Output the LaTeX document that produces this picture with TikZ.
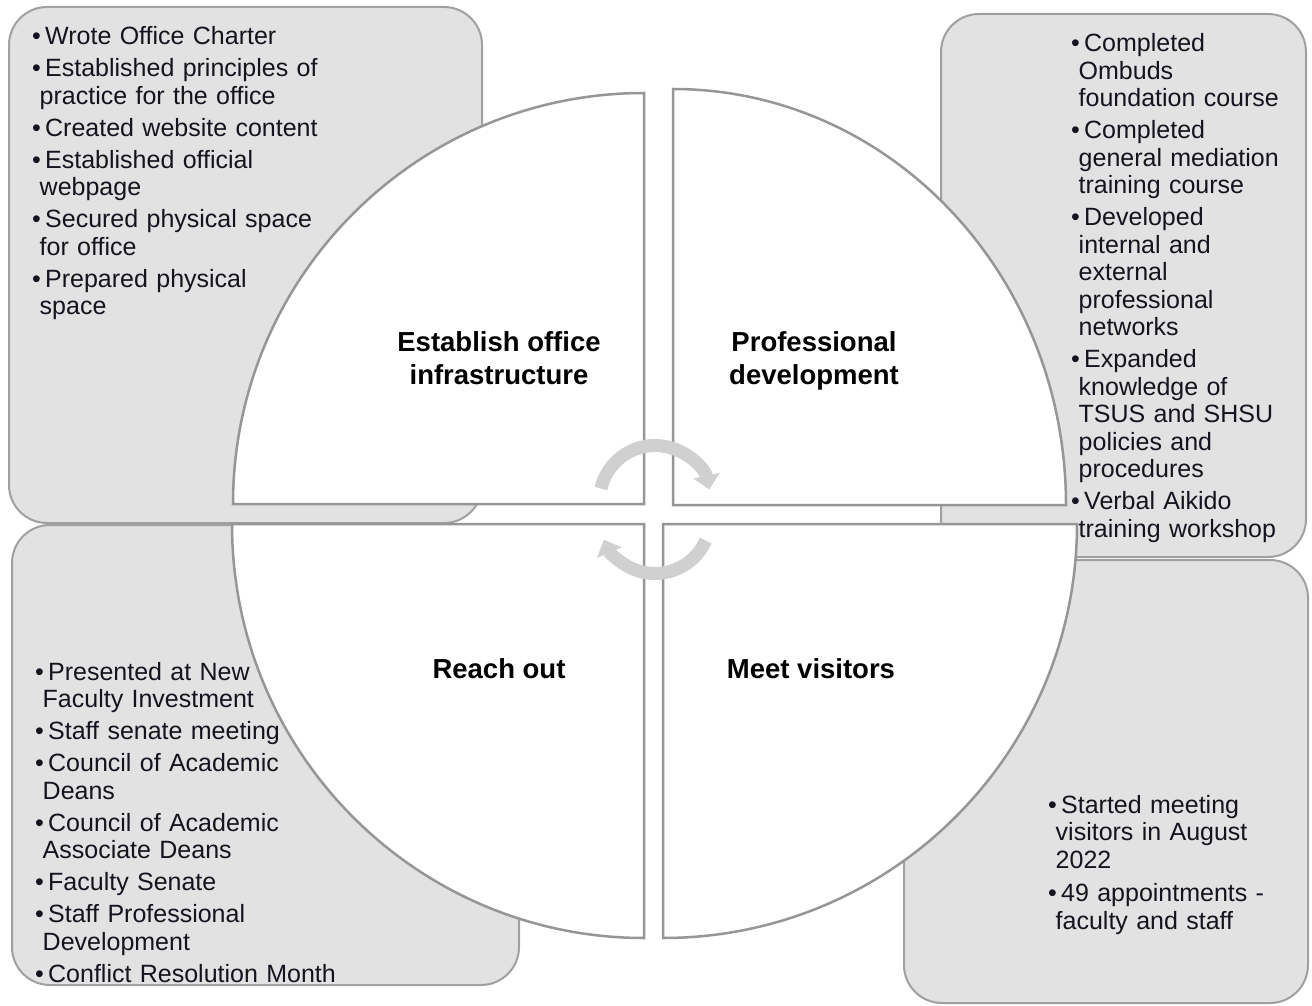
\documentclass[tikz,border=0pt]{standalone}
\usepackage{fontspec}
\setmainfont{Liberation Sans}
\usepackage{tikz}
\usetikzlibrary{arrows.meta}

\definecolor{boxfill}{RGB}{226,226,226}
\definecolor{boxline}{RGB}{160,160,160}
\definecolor{wedgeline}{RGB}{150,150,150}
\definecolor{cyclegray}{RGB}{208,208,208}
\definecolor{bodytext}{RGB}{20,20,30}

\newlength{\itemgap}
\setlength{\itemgap}{4.5pt}
\newcommand{\bul}[1]{%
  \ifhmode\else\addvspace{\itemgap}\noindent\fi
  \hangindent=7.5pt\hangafter=1\makebox[13pt][l]{\textbullet}#1\par}

\begin{document}
\begin{tikzpicture}[
    x=1pt, y=1pt,
    infobox/.style={
        fill=boxfill,
        draw=boxline,
        line width=2pt,
        rounded corners=38pt
    },
    wedge/.style={
        fill=white,
        draw=wedgeline,
        line width=2.5pt
    },
    heading/.style={
        align=center,
        inner sep=0pt,
        font=\bfseries\fontsize{27.5}{33}\selectfont
    },
    itemlist/.style={
        anchor=base west,
        align=left,
        text width=360pt,
        inner sep=0pt,
        text=bodytext,
        font=\fontsize{25}{27.5}\selectfont
    },
    cyclearrow/.style={
        line width=13pt,
        draw=cyclegray,
        -{Triangle[width=26pt,length=14pt]}
    }
]

\fill[white] (0,0) rectangle (1312,-1006);
\useasboundingbox (0,0) rectangle (1312,-1006);

% grey boxes behind the circle
\draw[infobox] (9,-7)    rectangle (482,-523);
\draw[infobox] (941,-14) rectangle (1306,-557);
\draw[infobox] (12,-525) rectangle (519,-985);
\draw[infobox] (904,-560) rectangle (1308,-1003);

% the four quarters
\draw[wedge] (644,-504) -- (233,-504) arc[start angle=180, end angle=90, radius=411pt] -- cycle;
\draw[wedge] (673,-505) -- (673,-89) arc[start angle=90, end angle=0, x radius=393pt, y radius=416pt] -- cycle;
\draw[wedge] (644,-524) -- (232,-524) arc[start angle=180, end angle=270, x radius=412pt, y radius=414pt] -- cycle;
\draw[wedge] (663,-524) -- (1077,-524) arc[start angle=0, end angle=-90, radius=414pt] -- cycle;

% cycle arrows
\coordinate (upperhub) at (655,-501);
\coordinate (lowerhub) at (655,-518);
\draw[cyclearrow] (upperhub) ++(167:55.5pt) arc[start angle=167, end angle=12, radius=55.5pt];
\draw[cyclearrow] (lowerhub) ++(-24:55.5pt) arc[start angle=-24, end angle=-157, radius=55.5pt];

\node[heading] (officeTitle) at (499,-358) {Establish office\\infrastructure};
\node[heading] (devTitle)    at (814,-361) {Professional\\development};
\node[heading] (outreachTitle) at (499,-669) {Reach out};
\node[heading] (visitTitle)  at (811,-669) {Meet visitors};

\node[itemlist] (officeList) at (32,-45) {%
\bul{Wrote Office Charter}
\bul{Established principles of\newline practice for the office}
\bul{Created website content}
\bul{Established official\newline webpage}
\bul{Secured physical space\newline for office}
\bul{Prepared physical\newline space}};

\node[itemlist] (devList) at (1071,-52) {%
\bul{Completed\newline Ombuds\newline foundation course}
\bul{Completed\newline general mediation\newline training course}
\bul{Developed\newline internal and\newline external\newline professional\newline networks}
\bul{Expanded\newline knowledge of\newline TSUS and SHSU\newline policies and\newline procedures}
\bul{Verbal Aikido\newline training workshop}};

\node[itemlist] (outreachList) at (35,-680) {%
\bul{Presented at New\newline Faculty Investment}
\bul{Staff senate meeting}
\bul{Council of Academic\newline Deans}
\bul{Council of Academic\newline Associate Deans}
\bul{Faculty Senate}
\bul{Staff Professional\newline Development}
\bul{Conflict Resolution Month}};

\node[itemlist] (visitList) at (1048,-813) {%
\setlength{\itemgap}{6pt}%
\bul{Started meeting\newline visitors in August\newline 2022}
\bul{49 appointments -\newline faculty and staff}};

\end{tikzpicture}
\end{document}
